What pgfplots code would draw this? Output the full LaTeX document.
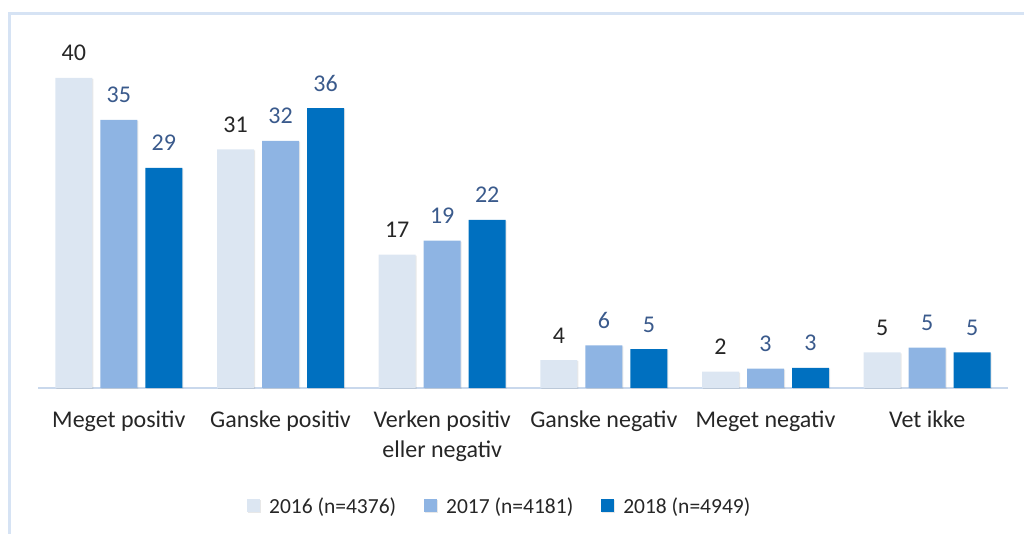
\documentclass[border=0pt]{standalone}
\usepackage{fontspec}
\setmainfont{Carlito}
\usepackage{pgfplots}
\pgfplotsset{compat=1.18}
\usetikzlibrary{shadows}
\definecolor{c16}{HTML}{DCE6F2}
\definecolor{c17}{HTML}{8EB4E3}
\definecolor{c18}{HTML}{0070C0}
\definecolor{lab}{HTML}{3A5A8C}
\definecolor{framec}{HTML}{D6E3F4}
\definecolor{basec}{HTML}{C9D8EC}
\definecolor{txt}{HTML}{262626}
\begin{document}
\begin{tikzpicture}
\path[use as bounding box] (0,0) rectangle (1024pt,534pt);
\draw[framec, line width=3pt] (9pt,0) -- (9pt,520pt) -- (1024pt,520pt);
\begin{axis}[at={(38pt,146pt)}, anchor=south west, scale only axis,
  width=970pt, height=341pt,
  xmin=-0.5, xmax=5.5, ymin=0, ymax=44,
  axis x line=bottom, axis y line=none,
  x axis line style={draw=basec, line width=1.2pt, -},
  ytick=\empty, xtick={0,...,5}, major tick length=0pt,
  xticklabels={Meget positiv, Ganske positiv, {\begin{tabular}[t]{@{}c@{}}Verken positiv\\eller negativ\end{tabular}}, Ganske negativ, Meget negativ, Vet ikke},
  xticklabel style={font=\fontsize{24}{30}\selectfont, text=txt, anchor=base, yshift=-40pt},
  ybar=8pt, bar width=37pt,
  point meta=explicit symbolic,
  nodes near coords,
  every node near coord/.append style={font=\fontsize{24}{29}\selectfont, anchor=base, yshift=17pt},
  legend style={at={(axis description cs:0.476,-0.346)}, anchor=center, draw=none, fill=none,
    font=\fontsize{21.5}{25}\selectfont, text=txt, legend columns=3,
    /tikz/every odd column/.append style={column sep=7pt},
    /tikz/every even column/.append style={column sep=26pt}},
  legend cell align=left,
  legend image code/.code={\fill[#1] (0pt,-6.5pt) rectangle (13pt,6.5pt);},
  clip=false]
\addplot[fill=c16, draw=none, drop shadow={shadow xshift=1pt, shadow yshift=-1pt, opacity=0.18},
  every node near coord/.append style={text=txt}]
  coordinates {(0,40.0)[40] (1,30.8)[31] (2,17.2)[17] (3,3.6)[4] (4,2.1)[2] (5,4.6)[5]};
\addplot[fill=c17, draw=none, drop shadow={shadow xshift=1pt, shadow yshift=-1pt, opacity=0.18},
  every node near coord/.append style={text=lab}]
  coordinates {(0,34.6)[35] (1,31.9)[32] (2,19.0)[19] (3,5.5)[6] (4,2.5)[3] (5,5.2)[5]};
\addplot[fill=c18, draw=none, drop shadow={shadow xshift=1pt, shadow yshift=-1pt, opacity=0.18},
  every node near coord/.append style={text=lab}]
  coordinates {(0,28.4)[29] (1,36.1)[36] (2,21.7)[22] (3,5.0)[5] (4,2.6)[3] (5,4.6)[5]};
\legend{2016 (n=4376), 2017 (n=4181), 2018 (n=4949)}
\end{axis}
\end{tikzpicture}
\end{document}
